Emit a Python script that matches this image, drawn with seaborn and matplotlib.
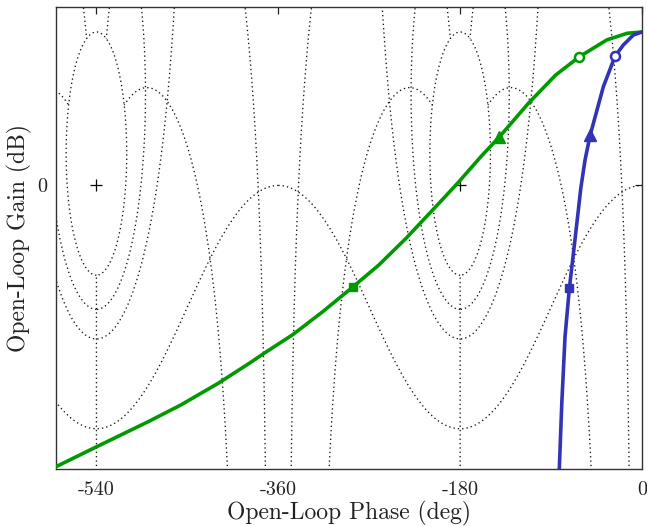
import numpy as np
import pandas as pd
import matplotlib
matplotlib.use("Agg")
import matplotlib.pyplot as plt
import seaborn as sns

# ---------------- data ----------------
green_phase = [-581.0, -543.0, -488.5, -456.5, -419.5, -388.5, -374.0, -346.0,
               -316.0, -286.5, -260.5, -233.5, -205.5, -182.5, -159.5, -141.1,
               -112.5, -85.5, -62.0, -34.8, -14.6, 0.0]
green_gain = [-11.05, -10.31, -9.26, -8.61, -7.76, -6.97, -6.58, -5.86,
              -4.95, -3.99, -3.12, -2.07, -0.89, 0.09, 1.13, 1.91,
              3.22, 4.33, 5.05, 5.71, 5.97, 6.02]
blue_phase = [0.0, -8.6, -18.5, -26.7, -38.3, -51.4, -56.4, -60.6, -63.0,
              -67.9, -71.9, -76.2, -79.4, -82.0]
blue_gain = [6.02, 5.90, 5.51, 5.07, 3.87, 1.96, 1.00, -0.11, -0.96,
             -2.66, -4.03, -5.93, -8.54, -11.25]

green_marker_phase = [-62.0, -141.1, -286.5]
green_marker_gain = [5.05, 1.91, -3.99]
blue_marker_phase = [-26.7, -51.4, -71.9]
blue_marker_gain = [5.07, 1.96, -4.03]
marker_shapes = ["o", "^", "s"]

critical_phase = [-540, -180]
critical_gain = [0, 0]

# Nichols grid levels (closed-loop gain in dB, closed-loop phase in deg)
m_levels_db = [6.02, 2.5, 0.0, -6.02]
n_levels_deg = [-10, -40, -180, -320, -350]
n_clip_db = 6.02

x_ticks = [-540, -360, -180, 0]
x_ticklabels = ["-540", "-360", "-180", "0"]
y_ticks = [0]
y_ticklabels = ["0"]

GREEN = "#009a00"
BLUE = "#3333b5"

# ---------------- styling ----------------
sns.set_theme(style="white")
plt.rcParams["font.family"] = ["cmr10", "DejaVu Serif"]
plt.rcParams["axes.unicode_minus"] = False
plt.rcParams["mathtext.fontset"] = "cm"

fig = plt.figure(figsize=(6.47, 5.26), dpi=100)
ax = fig.add_axes([0.0858, 0.1084, 0.9065, 0.8783])


def m_contour(mdb):
    M = 10 ** (mdb / 20.0)
    if abs(M - 1) < 1e-6:
        y = np.sinh(np.linspace(-7, 7, 4001))
        L = -0.5 + 1j * y
    else:
        c = M ** 2 / (1 - M ** 2)
        r = M / abs(1 - M ** 2)
        th = np.linspace(0, 2 * np.pi, 4001)
        L = c + r * np.exp(1j * th)
    ph = np.degrees(np.unwrap(np.angle(L)))
    g = 20 * np.log10(np.abs(L))
    return ph, g


def n_contour(psi):
    tmax = 10 ** (n_clip_db / 20.0)
    t = np.geomspace(1e-4, tmax, 4000)
    T = t * np.exp(1j * np.radians(psi))
    L = T / (1 - T)
    ph = np.degrees(np.unwrap(np.angle(L)))
    g = 20 * np.log10(np.abs(L))
    return ph, g


grid_kw = dict(color="#111111", lw=0.95, linestyle=(0, (1, 2.3)), zorder=1)
curves = [m_contour(m) for m in m_levels_db] + [n_contour(n) for n in n_levels_deg]
for ph, g in curves:
    for k in range(-4, 4):
        ax.plot(ph + 360 * k, g, **grid_kw)

ax.plot(critical_phase, critical_gain, linestyle="none", marker="+",
        color="black", markersize=8, mew=0.9, zorder=2)

df = pd.concat([
    pd.DataFrame({"phase": green_phase, "gain": green_gain, "system": "green"}),
    pd.DataFrame({"phase": blue_phase, "gain": blue_gain, "system": "blue"}),
])
sns.lineplot(data=df, x="phase", y="gain", hue="system",
             palette={"green": GREEN, "blue": BLUE}, sort=False,
             estimator=None, lw=2.6, legend=False, ax=ax, zorder=3)

for ph, g, col in [(green_marker_phase, green_marker_gain, GREEN),
                   (blue_marker_phase, blue_marker_gain, BLUE)]:
    for x, y, mk in zip(ph, g, marker_shapes):
        if mk == "o":
            ax.plot([x], [y], marker=mk, markersize=6.5, mfc="white",
                    mec=col, mew=1.8, zorder=4)
        elif mk == "^":
            ax.plot([x], [y], marker=mk, markersize=8.5, mfc=col,
                    mec=col, mew=1.0, zorder=4)
        else:
            ax.plot([x], [y], marker=mk, markersize=6.0, mfc=col,
                    mec=col, mew=1.0, zorder=4)

ax.set_xlim(-580.5, 0)
ax.set_ylim(-11.12, 7.0)
ax.set_xticks(x_ticks)
ax.set_xticklabels(x_ticklabels)
ax.set_yticks(y_ticks)
ax.set_yticklabels(y_ticklabels)
ax.tick_params(direction="in", length=5, width=0.9, top=True, right=True,
               labelsize=14.5, colors="#222222", pad=6)
ax.tick_params(axis="x", pad=9)
for s in ax.spines.values():
    s.set_color("#333333")
    s.set_linewidth(1.0)

ax.set_xlabel("Open-Loop Phase (deg)", fontsize=17, color="#222222", labelpad=1)
ax.set_ylabel("Open-Loop Gain (dB)", fontsize=17, color="#222222", labelpad=4)

fig.savefig("out.png", dpi=100)
